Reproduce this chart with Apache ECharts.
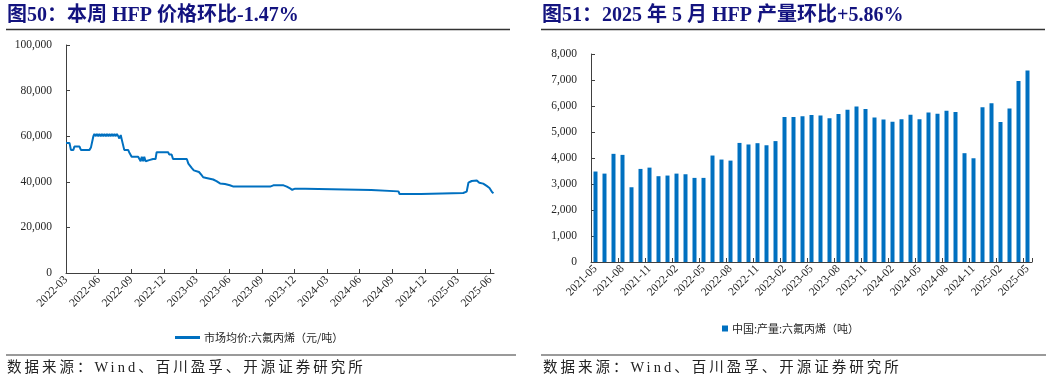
<!DOCTYPE html>
<html>
<head>
<meta charset="utf-8">
<script src="https://cdn.jsdelivr.net/npm/echarts@6/dist/echarts.min.js"></script>
<style>
  html, body { margin: 0; padding: 0; background: #fff; }
  #wrap { position: relative; width: 1057px; height: 381px; }
  #chart { position: absolute; left: 0; top: 0; width: 1057px; height: 381px; }
  .src { position: absolute; top: 358px; font-family: "Liberation Serif", "Noto Sans CJK SC", serif; font-size: 14.5px; letter-spacing: 3px; color: #222; line-height: 18px; white-space: nowrap; }
</style>
</head>
<body>
<div id="wrap">
  <div id="chart"></div>
  <div class="src" style="left:7px;">数据来源：Wind、百川盈孚、开源证券研究所</div>
  <div class="src" style="left:543px;">数据来源：Wind、百川盈孚、开源证券研究所</div>
</div>
<script>
// ---------- Left chart: HFP weekly market price (yuan/ton) ----------
var priceDates = [
  '2022-03-01','2022-03-11','2022-03-15','2022-03-22','2022-03-25','2022-04-08','2022-04-12','2022-05-06',
  '2022-05-10','2022-05-13','2022-05-17','2022-05-20','2022-05-24','2022-05-27','2022-05-31','2022-06-03',
  '2022-06-07','2022-06-10','2022-06-14','2022-06-17','2022-06-21','2022-06-24','2022-06-28','2022-07-01',
  '2022-07-05','2022-07-08','2022-07-12','2022-07-15','2022-07-19','2022-07-22','2022-07-26','2022-07-29',
  '2022-08-02','2022-08-05','2022-08-09','2022-08-12','2022-08-23','2022-08-26','2022-08-30','2022-09-02',
  '2022-09-20','2022-09-23','2022-09-27','2022-09-30','2022-10-04','2022-10-07','2022-10-11','2022-10-14',
  '2022-10-21','2022-11-01','2022-11-08','2022-11-11','2022-12-13','2022-12-16','2022-12-23','2022-12-27',
  '2023-02-04','2023-02-08','2023-02-17','2023-02-22','2023-03-08','2023-03-15','2023-03-20','2023-03-29',
  '2023-04-17','2023-04-26','2023-05-06','2023-05-20','2023-06-03','2023-06-13','2023-09-24','2023-10-03',
  '2023-11-01','2023-11-10','2023-11-19','2023-11-25','2023-12-03','2024-01-01','2024-01-05','2024-07-03',
  '2024-07-05','2024-09-18','2024-09-21','2024-11-20','2024-11-22','2025-03-17','2025-03-21','2025-03-27',
  '2025-04-01','2025-04-10','2025-04-24','2025-05-01','2025-05-12','2025-05-22','2025-05-30','2025-06-06',
  '2025-06-10'
];
var priceValues = [
  57000,57000,54000,54000,55500,55500,54000,54000,
  55000,55000,60000,61000,60000,61000,60000,61000,
  60000,61000,60000,61000,60000,61000,60000,61000,
  60000,61000,60000,61000,60000,61000,60000,59000,
  60500,58500,58000,54000,54000,53000,53000,51000,
  51000,51000,49000,51000,49000,51000,49000,49000,
  49500,50000,50000,53000,53000,52000,52000,50000,
  50000,48000,46000,45000,44300,43000,42000,41700,
  41000,40300,39300,39000,38500,37900,37900,38450,
  38450,37900,37100,36500,37000,37000,36400,36400,
  35800,35800,34650,34650,35100,35100,35400,35700,
  39600,40350,40600,39600,39200,38200,37300,35500,
  34980
];
var priceName = '市场均价:六氟丙烯（元/吨）';
var priceTickMonths = [0,3,6,9,12,15,18,21,24,27,30,33,36,39];

// ---------- Right chart: China HFP monthly output (tons) ----------
var outputMonths = [
  '2021-05','2021-06','2021-07','2021-08','2021-09','2021-10','2021-11','2021-12',
  '2022-01','2022-02','2022-03','2022-04','2022-05','2022-06','2022-07','2022-08',
  '2022-09','2022-10','2022-11','2022-12','2023-01','2023-02','2023-03','2023-04',
  '2023-05','2023-06','2023-07','2023-08','2023-09','2023-10','2023-11','2023-12',
  '2024-01','2024-02','2024-03','2024-04','2024-05','2024-06','2024-07','2024-08',
  '2024-09','2024-10','2024-11','2024-12','2025-01','2025-02','2025-03','2025-04',
  '2025-05'
];
var outputValues = [
  3480,3400,4160,4120,2875,3580,3630,3300,
  3325,3400,3375,3235,3235,4095,3940,3900,
  4580,4520,4570,4490,4650,5580,5580,5610,
  5650,5635,5530,5690,5855,5980,5880,5560,
  5480,5390,5495,5660,5495,5750,5700,5815,
  5765,4185,3990,5955,6110,5380,5905,6960,
  7370
];
var outputName = '中国:产量:六氟丙烯（吨）';

// month index relative to 2022-03 (fractional, by day)
function monthIndex(s) {
  var p = s.split('-');
  var y = +p[0], m = +p[1], d = +p[2];
  var dim = new Date(y, m, 0).getDate();
  return (y - 2022) * 12 + (m - 3) + (d - 1) / dim;
}
function indexLabel(v) {
  var k = Math.round(v);
  var total = 2022 * 12 + 2 + k;
  var y = Math.floor(total / 12), m = total % 12 + 1;
  return y + '-' + (m < 10 ? '0' + m : m);
}
var priceData = priceDates.map(function (d, i) { return [monthIndex(d), priceValues[i]]; });

var serif = '"Liberation Serif", "Noto Sans CJK SC", serif';
var axisColor = '#404040';
var labelStyle = { color: '#262626', fontFamily: serif, fontSize: 11.5 };
function comma(v) { return Number(v).toLocaleString('en-US'); }

var chart = echarts.init(document.getElementById('chart'), null, { renderer: 'canvas' });
chart.setOption({
  animation: false,
  backgroundColor: '#fff',
  grid: [
    { left: 66, top: 45, width: 428, height: 228, containLabel: false },
    { left: 591, top: 54, width: 441, height: 208, containLabel: false }
  ],
  xAxis: [
    {
      type: 'value', gridIndex: 0, min: 0, max: 39.35, interval: 3,
      axisLine: { show: true, lineStyle: { color: axisColor, width: 1 } },
      axisTick: { show: true, inside: true, length: 4, customValues: priceTickMonths, lineStyle: { color: axisColor } },
      axisLabel: Object.assign({ rotate: 45, margin: 5, customValues: priceTickMonths, formatter: indexLabel }, labelStyle),
      splitLine: { show: false }
    },
    {
      type: 'category', gridIndex: 1, data: outputMonths, boundaryGap: true,
      axisLine: { show: true, lineStyle: { color: axisColor, width: 1 } },
      axisTick: { show: true, inside: true, length: 4, interval: 2, alignWithLabel: false, lineStyle: { color: axisColor } },
      axisLabel: Object.assign({ rotate: 45, margin: 5, interval: 2 }, labelStyle),
      splitLine: { show: false }
    }
  ],
  yAxis: [
    {
      type: 'value', gridIndex: 0, min: 0, max: 100000, interval: 20000,
      axisLine: { show: true, lineStyle: { color: axisColor, width: 1 } },
      axisTick: { show: true, inside: true, length: 4, lineStyle: { color: axisColor } },
      axisLabel: Object.assign({ margin: 14, formatter: comma }, labelStyle),
      splitLine: { show: false }
    },
    {
      type: 'value', gridIndex: 1, min: 0, max: 8000, interval: 1000,
      axisLine: { show: true, lineStyle: { color: axisColor, width: 1 } },
      axisTick: { show: true, inside: true, length: 4, lineStyle: { color: axisColor } },
      axisLabel: Object.assign({ margin: 14, formatter: comma }, labelStyle),
      splitLine: { show: false }
    }
  ],
  legend: [
    {
      data: [priceName], left: 170, top: 327, icon: 'rect', itemWidth: 25, itemHeight: 3, itemGap: 10,
      textStyle: { fontFamily: '"Noto Sans CJK SC", sans-serif', fontSize: 11, color: '#262626', padding: [0, 0, 0, -1] }
    },
    {
      data: [outputName], left: 717, top: 318, icon: 'rect', itemWidth: 6, itemHeight: 6, itemGap: 10,
      textStyle: { fontFamily: '"Noto Sans CJK SC", sans-serif', fontSize: 11, color: '#262626', padding: [0, 0, 0, -1] }
    }
  ],
  series: [
    {
      name: priceName, type: 'line', xAxisIndex: 0, yAxisIndex: 0, data: priceData,
      showSymbol: false, symbol: 'none', color: '#0070C0',
      lineStyle: { color: '#0070C0', width: 2 }
    },
    {
      name: outputName, type: 'bar', xAxisIndex: 1, yAxisIndex: 1, data: outputValues,
      barWidth: 4, color: '#0070C0', itemStyle: { color: '#0070C0' }
    }
  ],
  graphic: [
    { type: 'text', left: 7, top: 6, style: { text: '图50：本周 HFP 价格环比-1.47%', fill: '#13137F', font: 'bold 20px "Liberation Serif", "Noto Sans CJK SC", serif' } },
    { type: 'text', left: 542, top: 6, style: { text: '图51：2025 年 5 月 HFP 产量环比+5.86%', fill: '#13137F', font: 'bold 20px "Liberation Serif", "Noto Sans CJK SC", serif' } },
    { type: 'line', shape: { x1: 6, y1: 29.5, x2: 510, y2: 29.5 }, style: { stroke: '#333', lineWidth: 1.5 } },
    { type: 'line', shape: { x1: 541, y1: 29.5, x2: 1045, y2: 29.5 }, style: { stroke: '#333', lineWidth: 1.5 } },
    { type: 'line', shape: { x1: 6, y1: 355, x2: 516, y2: 355 }, style: { stroke: '#9a9a9a', lineWidth: 2 } },
    { type: 'line', shape: { x1: 541, y1: 355, x2: 1046, y2: 355 }, style: { stroke: '#9a9a9a', lineWidth: 2 } }
  ]
});
</script>
</body>
</html>
